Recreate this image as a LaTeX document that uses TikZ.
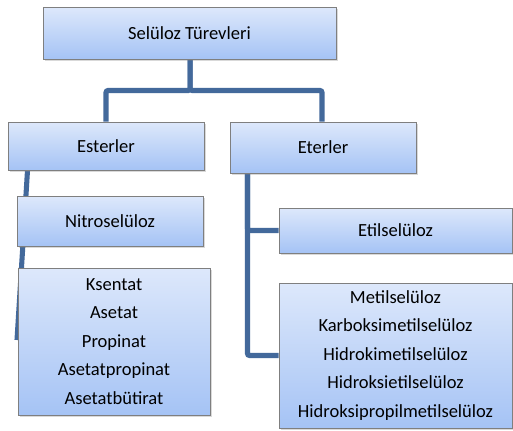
\documentclass[tikz,border=0pt]{standalone}
\usepackage{fontspec}
\setmainfont{Carlito}
\usepackage{xcolor}
\usepackage{tikz}
\usetikzlibrary{positioning, backgrounds, shadows}
\definecolor{boxtop}{HTML}{DDE8FB}
\definecolor{boxbottom}{HTML}{A5C3F5}
\definecolor{boxline}{HTML}{7F7F7F}
\definecolor{linkblue}{HTML}{43699B}
\tikzstyle{category} = [rectangle, draw=boxline, line width=0.75pt, top color=boxtop, bottom color=boxbottom, text centered, align=center, font=\fontsize{13.9}{21.4}\selectfont, drop shadow={shadow xshift=1.3pt, shadow yshift=-1.3pt, opacity=0.3}]
\tikzstyle{link} = [line width=3.8pt, draw=linkblue, rounded corners=1.5pt]
\begin{document}
\begin{tikzpicture}[x=0.75pt, y=-0.75pt]
    \useasboundingbox (0,0) rectangle (513,430);
    \node (root) [category, minimum width=219.75pt, minimum height=39pt] at (189.5,33) {Selüloz Türevleri};
    \node (ester) [category, minimum width=147pt, minimum height=36pt] at (106,146) {Esterler};
    \node (ether) [category, minimum width=139.5pt, minimum height=38.25pt] at (323,147.5) {Eterler};
    \node (nitro) [category, minimum width=139.5pt, minimum height=37.5pt] at (110,221) {Nitroselüloz};
    \node (esterlist) [category, minimum width=144pt, minimum height=110.25pt] at (114,341.5) {Ksentat\\Asetat\\Propinat\\Asetatpropinat\\Asetatbütirat};
    \node (ethyl) [category, minimum width=174.75pt, minimum height=33.75pt] at (395.5,230.5) {Etilselüloz};
    \node (etherlist) [category, minimum width=174.75pt, minimum height=108.75pt] at (395.5,355.5) {Metilselüloz\\Karboksimetilselüloz\\Hidrokimetilselüloz\\Hidroksietilselüloz\\Hidroksipropilmetilselüloz};
    \coordinate (esterend) at (17,340);

    \begin{scope}[on background layer]
    \draw [link] ([xshift=0.5pt]root.south) -- ++(0,31) -| (ester.north);
    \draw [link] ([xshift=0.5pt]root.south) -- ++(0,31) -| ([xshift=-0.75pt]ether.north);
    \draw [link] ([xshift=15pt]ester.south west) -- (esterend);
    \draw [link] ([xshift=13.5pt]ether.south west) |- (ethyl.west);
    \draw [link] ([xshift=13.5pt]ether.south west) |- (etherlist.west);
    \end{scope}
\end{tikzpicture}
\end{document}
